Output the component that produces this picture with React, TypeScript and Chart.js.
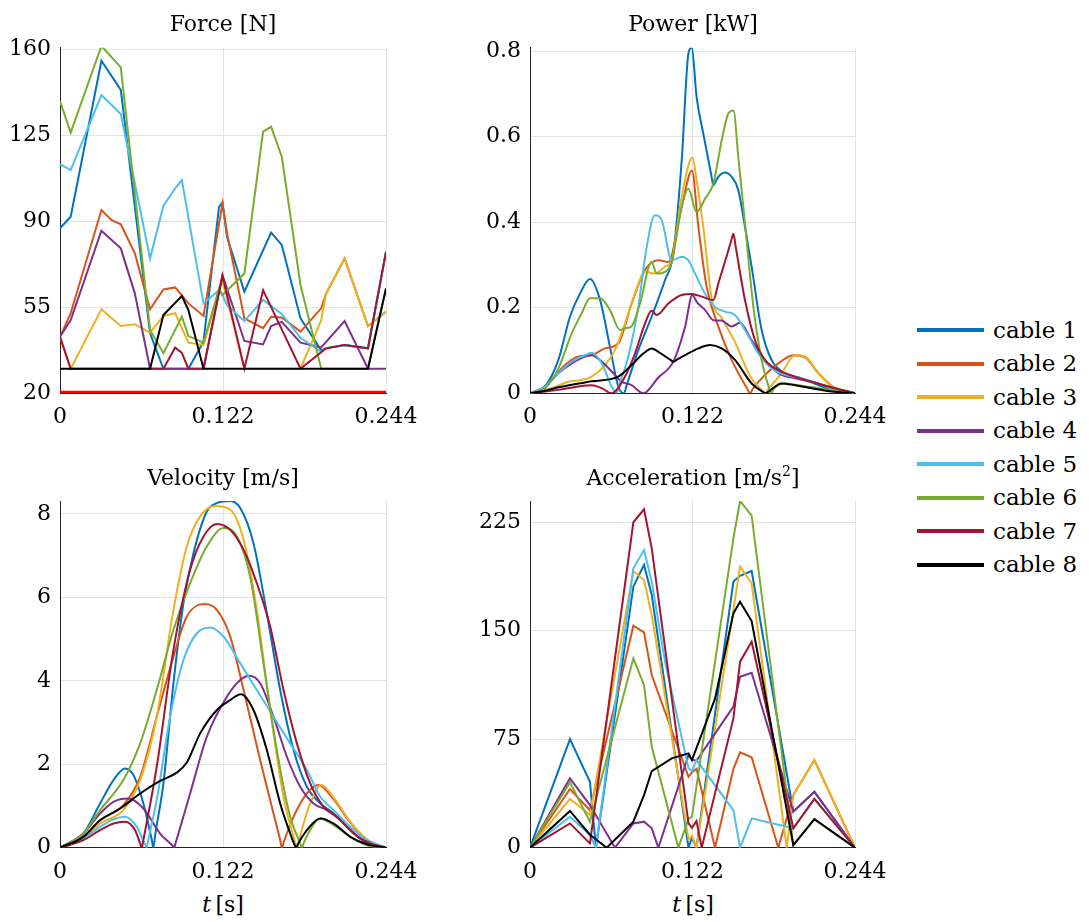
import React, { useEffect, useRef } from "react";
import { Chart, registerables } from "chart.js";

Chart.register(...registerables);

const FONT = "'DejaVu Serif', 'Liberation Serif', serif";

const CABLE_NAMES = ["cable 1", "cable 2", "cable 3", "cable 4", "cable 5", "cable 6", "cable 7", "cable 8"];
const CABLE_COLORS = ["#0072BD", "#D95319", "#EDB120", "#7E2F8E", "#4DBEEE", "#77AC30", "#A2142F", "#000000"];

const X_TICKS = [0, 0.122, 0.244];
const X_LABELS = ["0", "0.122", "0.244"];

// ---------------- Force [N] (piecewise linear, shared time grid) ----------------
const FORCE_T = [0, 0.008, 0.031, 0.0387, 0.0455, 0.056, 0.0674, 0.0774, 0.0862, 0.0912, 0.0961, 0.1074, 0.119, 0.1216, 0.125, 0.138, 0.152, 0.158, 0.166, 0.18, 0.1955, 0.199, 0.213, 0.2305, 0.244];
const FORCE_C1 = [87.2, 91.9, 155.4, null, 143.5, null, 44.4, 30, 30, 30, 30, 41, 95.9, 97.7, 83.7, 61.4, null, 85.4, 80.4, 50.5, 37.5, 38.3, 39.7, 38.3, 77.6];
const FORCE_C2 = [43, 52.6, 94.6, 90.5, 88.8, 77, 54.2, 62.3, 63.1, null, 56.6, 51.5, null, 97.3, 85.1, 50.5, 46.5, 51.2, 50.9, 45.1, 54.6, 60.4, 74.9, 47.4, 53.2];
const FORCE_C3 = [43, 30, 54.2, null, 47.4, 48.1, 44.7, 51.5, 52.6, null, 40.6, 39.7, null, 66, null, 30, 30, 30, 30, 30, 49.8, 60.4, 74.9, 47.4, 53.2];
const FORCE_C4 = [43, 49.8, 86.2, null, 79, 60.7, 30, 30, 30, 30, 30, 30, null, 68.1, null, 41.3, 39.9, 47.4, 49.1, 40.6, 38.7, null, 49.4, 30, 30];
const FORCE_C5 = [113.3, 110.9, 141.4, null, 133.7, null, 74.9, 96.4, 103.4, 106.8, null, 56.6, 62, 60, 55.9, 49.4, 58, null, 52.3, 42.6, 36.9, 38.3, 39.7, 38.3, 77.6];
const FORCE_C6 = [139, 126.1, 161.4, null, 152.7, null, 45.8, 36.3, null, 51.2, 43.3, 40.6, 62.7, 60, null, 68.8, 126.5, 128.5, 116.3, 64.1, 30, 30, 30, 30, 62.7];
const FORCE_C7 = [43, 30, 30, 30, 30, 30, 30, 30, 38.6, 36.5, 30, 30, null, 68, null, 30, 62, null, null, 30, null, 38.3, 39.7, 38.3, 77.6];
const FORCE_C8 = [30, 30, 30, 30, 30, 30, 30, 51.9, null, 59.6, 53.9, 30, 30, 30, 30, 30, 30, 30, 30, 30, 30, 30, 30, 30, 62.7];
const FORCE_LIMIT_T = [0, 0.244];
const FORCE_LIMIT = [20, 20];
const FORCE_TICKS = [20, 55, 90, 125, 160];
const FORCE_LABELS = ["20", "55", "90", "125", "160"];

// ---------------- Power [kW] (smooth, [t, value] pairs) ----------------
const POW_C1 = [[0,0],[0.0113,0.016],[0.0213,0.078],[0.03,0.179],[0.0375,0.233],[0.045,0.267],[0.0526,0.218],[0.06,0.109],[0.0663,0.016],[0.0706,0],[0.0725,0.018],[0.0813,0.101],[0.0913,0.179],[0.1014,0.265],[0.1076,0.327],[0.1139,0.545],[0.1189,0.794],[0.1214,0.809],[0.1251,0.692],[0.1301,0.607],[0.136,0.512],[0.1376,0.486],[0.139,0.493],[0.1414,0.506],[0.1464,0.516],[0.1514,0.506],[0.1564,0.475],[0.1614,0.389],[0.1664,0.296],[0.1739,0.148],[0.1814,0.078],[0.1914,0.047],[0.2039,0.035],[0.2165,0.019],[0.229,0.006],[0.244,0]];
const POW_C2 = [[0,0],[0.0113,0.016],[0.0263,0.066],[0.0363,0.086],[0.0463,0.089],[0.0563,0.105],[0.0663,0.117],[0.0763,0.21],[0.0863,0.288],[0.0964,0.311],[0.1039,0.307],[0.1139,0.436],[0.1216,0.521],[0.1264,0.389],[0.1326,0.249],[0.1414,0.156],[0.1514,0.078],[0.1632,0.01],[0.1652,0],[0.1672,0.01],[0.1764,0.043],[0.1864,0.07],[0.1977,0.089],[0.2065,0.084],[0.2165,0.047],[0.229,0.012],[0.244,0]];
const POW_C3 = [[0,0],[0.0163,0.012],[0.0288,0.027],[0.0388,0.031],[0.0463,0.039],[0.0563,0.066],[0.0638,0.101],[0.0713,0.163],[0.0788,0.233],[0.0863,0.284],[0.0938,0.28],[0.1014,0.296],[0.1064,0.311],[0.1139,0.459],[0.1219,0.551],[0.1251,0.498],[0.1301,0.389],[0.1364,0.222],[0.1439,0.176],[0.1539,0.12],[0.1652,0.04],[0.1745,0.006],[0.1764,0],[0.1785,0.008],[0.1889,0.047],[0.1989,0.089],[0.2065,0.086],[0.2165,0.047],[0.229,0.012],[0.244,0]];
const POW_C4 = [[0,0],[0.0113,0.016],[0.0213,0.047],[0.0313,0.07],[0.0413,0.086],[0.0463,0.089],[0.0538,0.074],[0.0613,0.051],[0.0688,0.027],[0.0763,0.019],[0.0851,0],[0.0964,0.037],[0.1076,0.074],[0.1164,0.155],[0.1219,0.23],[0.1251,0.214],[0.1314,0.195],[0.1376,0.171],[0.1439,0.17],[0.1514,0.156],[0.1576,0.165],[0.1664,0.124],[0.1764,0.078],[0.1864,0.047],[0.1989,0.035],[0.2114,0.027],[0.224,0.016],[0.244,0]];
const POW_C5 = [[0,0],[0.0113,0.016],[0.0213,0.047],[0.0313,0.074],[0.0413,0.089],[0.0463,0.095],[0.0538,0.07],[0.0613,0.016],[0.065,0],[0.0665,0.015],[0.0738,0.086],[0.0813,0.202],[0.0876,0.342],[0.0938,0.416],[0.0989,0.405],[0.1064,0.311],[0.1139,0.319],[0.1189,0.311],[0.1239,0.28],[0.1314,0.233],[0.1389,0.202],[0.1464,0.191],[0.1539,0.183],[0.1614,0.148],[0.1714,0.093],[0.1814,0.058],[0.1914,0.043],[0.2014,0.037],[0.2165,0.023],[0.229,0.009],[0.244,0]];
const POW_C6 = [[0,0],[0.0113,0.012],[0.0213,0.058],[0.0313,0.14],[0.0388,0.187],[0.045,0.222],[0.0526,0.222],[0.06,0.195],[0.0676,0.148],[0.0713,0.152],[0.0763,0.157],[0.0826,0.21],[0.0913,0.307],[0.0951,0.28],[0.1014,0.284],[0.1064,0.307],[0.1139,0.436],[0.1189,0.478],[0.1251,0.424],[0.1314,0.455],[0.1376,0.49],[0.1439,0.591],[0.1489,0.654],[0.1527,0.661],[0.1564,0.552],[0.1614,0.397],[0.1677,0.202],[0.1739,0.078],[0.1795,0.012],[0.181,0],[0.1828,0.01],[0.1914,0.023],[0.2014,0.019],[0.2165,0.012],[0.244,0]];
const POW_C7 = [[0,0],[0.0213,0.008],[0.0363,0.016],[0.0463,0.019],[0.0538,0.012],[0.0613,0],[0.0713,0.039],[0.0788,0.093],[0.0863,0.163],[0.0913,0.193],[0.0951,0.183],[0.1039,0.21],[0.1139,0.23],[0.1214,0.232],[0.1289,0.226],[0.1376,0.218],[0.1415,0.258],[0.149,0.335],[0.151,0.356],[0.1527,0.373],[0.1545,0.341],[0.1614,0.218],[0.1689,0.124],[0.1764,0.078],[0.1864,0.054],[0.1989,0.039],[0.2114,0.027],[0.224,0.016],[0.244,0]];
const POW_C8 = [[0,0],[0.0113,0.006],[0.0213,0.014],[0.0463,0.028],[0.0663,0.039],[0.0763,0.066],[0.0851,0.093],[0.0913,0.105],[0.0964,0.097],[0.1055,0.078],[0.1076,0.074],[0.1095,0.077],[0.1164,0.089],[0.1264,0.105],[0.1351,0.113],[0.1439,0.105],[0.1539,0.078],[0.1664,0.023],[0.1755,0.002],[0.1768,0],[0.1785,0.003],[0.1889,0.023],[0.1989,0.019],[0.2114,0.012],[0.2265,0.004],[0.244,0]];
const POW_TICKS = [0, 0.2, 0.4, 0.6, 0.8];
const POW_LABELS = ["0", "0.2", "0.4", "0.6", "0.8"];

// ---------------- Velocity [m/s] (smooth, [t, value] pairs) ----------------
const VEL_C1 = [[0,0],[0.0175,0.34],[0.03,1.06],[0.04,1.62],[0.0487,1.9],[0.055,1.74],[0.0624,1.06],[0.0685,0.22],[0.0699,0],[0.0712,0.3],[0.0774,1.54],[0.0849,3.94],[0.0924,5.86],[0.0999,7.06],[0.1099,8.06],[0.1174,8.26],[0.1274,8.31],[0.1349,8.14],[0.1448,7.3],[0.1548,5.62],[0.1648,3.78],[0.1748,2.34],[0.1848,1.46],[0.1948,1.06],[0.2048,0.82],[0.2148,0.5],[0.2298,0.1],[0.244,0]];
const VEL_C2 = [[0,0],[0.0175,0.26],[0.03,0.66],[0.0474,1.02],[0.06,1.7],[0.0724,3.14],[0.0849,4.58],[0.0949,5.54],[0.1079,5.84],[0.1174,5.7],[0.1274,5.06],[0.1374,3.78],[0.1498,2.1],[0.1598,0.82],[0.1648,0.18],[0.1661,0],[0.1675,0.14],[0.1748,0.74],[0.1848,1.3],[0.1935,1.5],[0.2048,1.16],[0.2173,0.6],[0.2298,0.19],[0.244,0]];
const VEL_C3 = [[0,0],[0.0175,0.22],[0.03,0.58],[0.0474,0.9],[0.06,1.62],[0.0724,3.14],[0.0849,5.7],[0.0949,7.22],[0.1049,7.94],[0.1161,8.19],[0.1274,8.1],[0.1374,7.38],[0.1473,5.7],[0.1573,3.3],[0.1673,1.22],[0.1761,0.12],[0.1775,0],[0.179,0.2],[0.1873,1.06],[0.1955,1.5],[0.2048,1.2],[0.2173,0.62],[0.2298,0.2],[0.244,0]];
const VEL_C4 = [[0,0],[0.0175,0.34],[0.03,0.82],[0.04,1.1],[0.0512,1.18],[0.0624,0.94],[0.0749,0.34],[0.0842,0.05],[0.0854,0],[0.0866,0.12],[0.0974,1.3],[0.1099,2.66],[0.1249,3.62],[0.1349,4.02],[0.1418,4.12],[0.1498,3.94],[0.1598,3.14],[0.1698,2.18],[0.1798,1.46],[0.1898,1.06],[0.1998,0.9],[0.2098,0.66],[0.2248,0.22],[0.244,0]];
const VEL_C5 = [[0,0],[0.0175,0.22],[0.03,0.5],[0.04,0.68],[0.0487,0.74],[0.0574,0.5],[0.0637,0.08],[0.0649,0],[0.066,0.18],[0.0724,1.14],[0.0824,3.14],[0.0924,4.5],[0.1024,5.14],[0.1124,5.28],[0.1224,5.06],[0.1349,4.42],[0.1473,3.78],[0.1598,3.14],[0.1723,2.5],[0.1848,1.86],[0.1948,1.22],[0.2048,0.9],[0.2173,0.5],[0.2298,0.18],[0.244,0]];
const VEL_C6 = [[0,0],[0.0175,0.34],[0.03,0.9],[0.0474,1.62],[0.06,2.5],[0.0724,3.78],[0.0849,5.22],[0.0974,6.34],[0.1099,7.22],[0.1224,7.66],[0.1324,7.46],[0.1423,6.5],[0.1523,4.42],[0.1623,2.34],[0.1723,0.74],[0.1798,0.1],[0.1811,0],[0.1825,0.12],[0.1886,0.5],[0.1948,0.7],[0.2048,0.54],[0.2173,0.26],[0.2298,0.06],[0.244,0]];
const VEL_C7 = [[0,0],[0.0175,0.18],[0.03,0.42],[0.04,0.58],[0.0487,0.62],[0.0562,0.42],[0.06,0.1],[0.0612,0],[0.0625,0.2],[0.0724,1.94],[0.0849,4.74],[0.0974,6.66],[0.1074,7.46],[0.1174,7.76],[0.1274,7.62],[0.1374,7.14],[0.1473,6.34],[0.1573,5.3],[0.1673,3.78],[0.1773,2.5],[0.1873,1.54],[0.1973,0.98],[0.2073,0.74],[0.2198,0.34],[0.2323,0.1],[0.244,0]];
const VEL_C8 = [[0,0],[0.0175,0.26],[0.03,0.66],[0.045,0.94],[0.06,1.3],[0.0749,1.6],[0.0874,1.8],[0.0949,2.04],[0.1049,2.74],[0.1174,3.3],[0.1274,3.54],[0.1354,3.68],[0.1448,3.3],[0.1548,2.34],[0.1648,1.06],[0.1723,0.34],[0.1758,0.05],[0.1768,0],[0.178,0.08],[0.1848,0.42],[0.1948,0.7],[0.2048,0.58],[0.2173,0.26],[0.2298,0.08],[0.244,0]];
const VEL_TICKS = [0, 2, 4, 6, 8];
const VEL_LABELS = ["0", "2", "4", "6", "8"];

// ---------------- Acceleration [m/s^2] (piecewise linear, shared time grid) ----------------
const ACC_T = [0, 0.03, 0.045, 0.0495, 0.0576, 0.0638, 0.0776, 0.0856, 0.0914, 0.0964, 0.1014, 0.1064, 0.1114, 0.119, 0.1216, 0.125, 0.1289, 0.1389, 0.1527, 0.1577, 0.1664, 0.1864, 0.1927, 0.1977, 0.2135, 0.244];
const ACC_C1 = [0, 75.1, 45.6, 0, null, null, 180.5, 195.5, 174.7, null, null, null, null, 0, 7, 0, null, null, 184, 188, 191.3, null, null, 25, 38.7, 0];
const ACC_C2 = [0, 40.6, 26, null, null, null, 153.5, 148.9, 119.4, null, null, null, null, 49, 52, 54.5, null, 0, 54.4, 65.9, 62.5, 0, null, 36.4, 60.6, 0];
const ACC_C3 = [0, 33.7, 22.6, null, null, null, 191.3, 185.1, 160.9, null, null, null, null, 6, 8, 0, null, null, null, 194.3, 182.8, null, 0, 36.4, 60.6, 0];
const ACC_C4 = [0, 47.9, 29.5, null, null, 0, 16.8, 18, 13.4, 0, null, null, null, 64, 61, 60, null, null, 97.5, 118.2, 121, null, null, 24.9, 38.7, 0];
const ACC_C5 = [0, 21.4, 8.8, 0, null, null, 193.2, 205.8, 183.9, null, 128.6, null, null, 55, 53, 60.6, null, null, 26, 0, 20.3, null, null, 13.4, 33.7, 0];
const ACC_C6 = [0, 45.2, 18, null, null, null, 130.9, 112.5, 69.8, null, null, null, 0, 20, 21.4, null, null, null, 213.9, 239.7, 229.6, null, null, 1.8, 19.8, 0];
const ACC_C7 = [0, 16.8, 3, null, null, null, 225, 234, 207, null, null, null, null, 16.8, 13.8, 18.4, 0, null, 89.4, 128.6, 142.4, null, null, 13.4, 33.7, 0];
const ACC_C8 = [0, 25.4, 9, null, 0, null, 18, 36.4, 53, null, null, 61.8, null, 65.2, 60.6, null, null, 103, 162, 170, 156.7, null, null, 1.8, 19.8, 0];
const ACC_TICKS = [0, 75, 150, 225];
const ACC_LABELS = ["0", "75", "150", "225"];

// ---------------- helpers ----------------
type Pt = { x: number; y: number | null };
const fromGrid = (T: number[], V: (number | null)[]): Pt[] => T.map((t, i) => ({ x: t, y: V[i] }));
const fromPairs = (P: number[][]): Pt[] => P.map((p) => ({ x: p[0], y: p[1] }));

function cableDatasets(series: Pt[][], smooth: boolean) {
  return series.map((data, i) => ({
    label: CABLE_NAMES[i],
    data,
    borderColor: CABLE_COLORS[i],
    backgroundColor: CABLE_COLORS[i],
    borderWidth: 2,
    pointRadius: 0,
    fill: false,
    spanGaps: true,
    tension: 0,
    cubicInterpolationMode: smooth ? "monotone" : "default",
    order: 10 - i,
  }));
}

type PanelProps = {
  left: number;
  top: number;
  width: number;
  height: number;
  padTop: number;
  padRight: number;
  xHeight: number;
  yMin: number;
  yMax: number;
  yTicks: number[];
  yLabels: string[];
  datasets: any[];
};

function Panel(p: PanelProps) {
  const ref = useRef<HTMLCanvasElement | null>(null);
  useEffect(() => {
    const canvas = ref.current;
    if (!canvas) return;
    const tickFont = { family: FONT, size: 22 };
    const chart = new Chart(canvas, {
      type: "line",
      data: { datasets: p.datasets },
      options: {
        animation: false,
        responsive: false,
        maintainAspectRatio: false,
        events: [],
        layout: { padding: { left: 0, top: p.padTop, right: p.padRight, bottom: 0 } },
        plugins: { legend: { display: false }, tooltip: { enabled: false }, title: { display: false } },
        scales: {
          x: {
            type: "linear",
            position: "bottom",
            min: 0,
            max: 0.244,
            afterBuildTicks: (s: any) => {
              s.ticks = X_TICKS.map((v) => ({ value: v }));
            },
            afterFit: (s: any) => {
              s.height = p.xHeight;
            },
            grid: { color: "#e3e3e3", lineWidth: 1, drawTicks: false },
            border: { color: "#222222", width: 1 },
            ticks: {
              font: tickFont,
              color: "#000",
              padding: 11,
              autoSkip: false,
              maxRotation: 0,
              minRotation: 0,
              callback: (_v: any, i: number) => X_LABELS[i],
            },
          },
          y: {
            type: "linear",
            position: "left",
            min: p.yMin,
            max: p.yMax,
            afterBuildTicks: (s: any) => {
              s.ticks = p.yTicks.map((v) => ({ value: v }));
            },
            afterFit: (s: any) => {
              s.width = 60;
            },
            grid: { color: "#e3e3e3", lineWidth: 1, drawTicks: false },
            border: { color: "#222222", width: 1 },
            ticks: {
              font: tickFont,
              color: "#000",
              padding: 9,
              autoSkip: false,
              callback: (_v: any, i: number) => p.yLabels[i],
            },
          },
        },
      } as any,
    });
    return () => chart.destroy();
  }, []);
  return (
    <canvas
      ref={ref}
      width={p.width}
      height={p.height}
      style={{ position: "absolute", left: p.left, top: p.top, width: p.width, height: p.height }}
    />
  );
}

function Label({ cx, top, children }: { cx: number; top: number; children: any }) {
  return (
    <div
      style={{
        position: "absolute",
        left: cx - 160,
        width: 320,
        top,
        textAlign: "center",
        fontFamily: FONT,
        fontSize: 22,
        lineHeight: "22px",
        color: "#000",
        whiteSpace: "nowrap",
      }}
    >
      {children}
    </div>
  );
}

export default function App() {
  const forceSets = [
    ...cableDatasets(
      [FORCE_C1, FORCE_C2, FORCE_C3, FORCE_C4, FORCE_C5, FORCE_C6, FORCE_C7, FORCE_C8].map((v) => fromGrid(FORCE_T, v)),
      false
    ),
    {
      label: "limit",
      data: fromGrid(FORCE_LIMIT_T, FORCE_LIMIT),
      borderColor: "#FF0000",
      backgroundColor: "#FF0000",
      borderWidth: 5,
      pointRadius: 0,
      fill: false,
      tension: 0,
      order: 0,
    },
  ];
  const powerSets = cableDatasets([POW_C1, POW_C2, POW_C3, POW_C4, POW_C5, POW_C6, POW_C7, POW_C8].map(fromPairs), true);
  const velSets = cableDatasets([VEL_C1, VEL_C2, VEL_C3, VEL_C4, VEL_C5, VEL_C6, VEL_C7, VEL_C8].map(fromPairs), true);
  const accSets = cableDatasets(
    [ACC_C1, ACC_C2, ACC_C3, ACC_C4, ACC_C5, ACC_C6, ACC_C7, ACC_C8].map((v) => fromGrid(ACC_T, v)),
    false
  );

  return (
    <div style={{ position: "absolute", left: 0, top: 0, width: 1089, height: 922, background: "#fff", overflow: "hidden" }}>
      <Panel left={0} top={0} width={440} height={440} padTop={47.7} padRight={54} xHeight={46.7}
        yMin={20} yMax={160.7} yTicks={FORCE_TICKS} yLabels={FORCE_LABELS} datasets={forceSets} />
      <Panel left={470} top={0} width={440} height={440} padTop={47.7} padRight={55} xHeight={46.7}
        yMin={0} yMax={0.808} yTicks={POW_TICKS} yLabels={POW_LABELS} datasets={powerSets} />
      <Panel left={0} top={450} width={440} height={440} padTop={51} padRight={54} xHeight={42.3}
        yMin={0} yMax={8.31} yTicks={VEL_TICKS} yLabels={VEL_LABELS} datasets={velSets} />
      <Panel left={470} top={450} width={440} height={440} padTop={51} padRight={55} xHeight={42.3}
        yMin={0} yMax={239.7} yTicks={ACC_TICKS} yLabels={ACC_LABELS} datasets={accSets} />

      <Label cx={223} top={13.4}>Force [N]</Label>
      <Label cx={693} top={13.4}>Power [kW]</Label>
      <Label cx={223} top={467.4}>Velocity [m/s]</Label>
      <Label cx={693} top={467.4}>
        Acceleration [m/s<span style={{ fontSize: 14, position: "relative", top: -9 }}>2</span>]
      </Label>
      <Label cx={223} top={894.4}>
        <span style={{ fontStyle: "italic" }}>t</span>{"\u2009"}[s]
      </Label>
      <Label cx={693} top={894.4}>
        <span style={{ fontStyle: "italic" }}>t</span>{"\u2009"}[s]
      </Label>

      {CABLE_NAMES.map((name, i) => {
        const cy = 330 + 33.5 * i;
        return (
          <React.Fragment key={name}>
            <div style={{ position: "absolute", left: 917, top: cy - 2, width: 67, height: 4, background: CABLE_COLORS[i] }} />
            <div
              style={{
                position: "absolute",
                left: 993,
                top: cy - 11.2,
                fontFamily: FONT,
                fontSize: 23,
                lineHeight: "23px",
                color: "#000",
                whiteSpace: "nowrap",
              }}
            >
              {name}
            </div>
          </React.Fragment>
        );
      })}
    </div>
  );
}
